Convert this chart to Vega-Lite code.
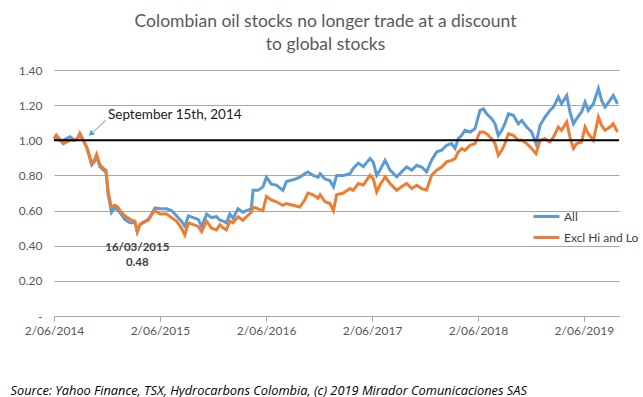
{
  "$schema": "https://vega.github.io/schema/vega-lite/v6.json",
  "width": 565,
  "height": 246,
  "autosize": {"type": "none"},
  "padding": {"left": 54, "top": 70, "right": 24, "bottom": 81},
  "background": "white",
  "title": {
    "text": ["Colombian oil stocks no longer trade at a discount", "to global stocks"],
    "anchor": "middle",
    "frame": "group",
    "dx": -11,
    "offset": 11,
    "fontSize": 17.5,
    "font": "Lato",
    "fontWeight": "normal",
    "color": "#595959",
    "lineHeight": 23
  },
  "config": {
    "view": {"stroke": null},
    "font": "Lato"
  },
  "encoding": {
    "x": {
      "field": "date", "type": "temporal",
      "scale": {"type": "utc", "domain": [{"year": 2014, "month": 6, "date": 2, "utc": true}, {"year": 2019, "month": 10, "date": 1, "utc": true}]},
      "axis": {
        "values": [
          {"year": 2014, "month": 6, "date": 2, "utc": true},
          {"year": 2015, "month": 6, "date": 2, "utc": true},
          {"year": 2016, "month": 6, "date": 2, "utc": true},
          {"year": 2017, "month": 6, "date": 2, "utc": true},
          {"year": 2018, "month": 6, "date": 2, "utc": true},
          {"year": 2019, "month": 6, "date": 2, "utc": true}
        ],
        "format": "%-d/%m/%Y",
        "grid": false,
        "domainColor": "#a6a6a6",
        "tickColor": "#a6a6a6",
        "tickSize": 5,
        "labelFontSize": 12,
        "labelColor": "#595959",
        "labelPadding": 4,
        "labelFlush": false,
        "labelOverlap": false,
        "labelBound": false,
        "title": "Source:  Yahoo Finance, TSX, Hydrocarbons  Colombia, (c) 2019 Mirador Comunicaciones SAS",
        "titleX": -44,
        "titleY": 74,
        "titleAlign": "left",
        "titleBaseline": "middle",
        "titleFont": "Open Sans",
        "titleFontStyle": "italic",
        "titleFontWeight": "normal",
        "titleFontSize": 12.8,
        "titleColor": "#000000"
      }
    },
    "y": {
      "field": "value", "type": "quantitative",
      "scale": {"domain": [0, 1.4], "nice": false, "zero": true},
      "axis": {
        "values": [0, 0.2, 0.4, 0.6, 0.8, 1.0, 1.2, 1.4],
        "labelExpr": "datum.value == 0 ? '-' : format(datum.value, '.2f')",
        "grid": true,
        "gridColor": "#a6a6a6",
        "gridWidth": 1,
        "domain": false,
        "ticks": false,
        "labelPadding": 12,
        "labelFontSize": 12,
        "labelColor": "#595959",
        "labelOverlap": false,
        "title": null
      }
    }
  },
  "layer": [
    {
      "data": {"values": [
        {"date":"2014-06-02","All":1.00,"Excl Hi and Lo":1.01},
        {"date":"2014-06-10","All":1.01,"Excl Hi and Lo":1.03},
        {"date":"2014-06-20","All":1.00,"Excl Hi and Lo":1.01},
        {"date":"2014-07-04","All":1.00,"Excl Hi and Lo":0.98},
        {"date":"2014-07-15","All":1.01,"Excl Hi and Lo":0.99},
        {"date":"2014-07-27","All":1.02,"Excl Hi and Lo":1.00},
        {"date":"2014-08-13","All":1.00,"Excl Hi and Lo":1.00},
        {"date":"2014-08-22","All":1.01,"Excl Hi and Lo":1.01},
        {"date":"2014-08-30","All":1.03,"Excl Hi and Lo":1.04},
        {"date":"2014-09-11","All":1.00,"Excl Hi and Lo":1.00},
        {"date":"2014-09-23","All":0.96,"Excl Hi and Lo":0.96},
        {"date":"2014-10-03","All":0.90,"Excl Hi and Lo":0.91},
        {"date":"2014-10-10","All":0.86,"Excl Hi and Lo":0.87},
        {"date":"2014-10-20","All":0.88,"Excl Hi and Lo":0.89},
        {"date":"2014-10-27","All":0.91,"Excl Hi and Lo":0.92},
        {"date":"2014-11-07","All":0.85,"Excl Hi and Lo":0.86},
        {"date":"2014-11-19","All":0.83,"Excl Hi and Lo":0.84},
        {"date":"2014-11-28","All":0.82,"Excl Hi and Lo":0.83},
        {"date":"2014-12-06","All":0.69,"Excl Hi and Lo":0.70},
        {"date":"2014-12-17","All":0.59,"Excl Hi and Lo":0.62},
        {"date":"2014-12-29","All":0.62,"Excl Hi and Lo":0.63},
        {"date":"2015-01-08","All":0.60,"Excl Hi and Lo":0.62},
        {"date":"2015-01-15","All":0.59,"Excl Hi and Lo":0.60},
        {"date":"2015-02-01","All":0.55,"Excl Hi and Lo":0.57},
        {"date":"2015-02-19","All":0.53,"Excl Hi and Lo":0.55},
        {"date":"2015-03-08","All":0.53,"Excl Hi and Lo":0.54},
        {"date":"2015-03-16","All":0.48,"Excl Hi and Lo":0.48},
        {"date":"2015-03-25","All":0.52,"Excl Hi and Lo":0.52},
        {"date":"2015-04-05","All":0.53,"Excl Hi and Lo":0.535},
        {"date":"2015-04-23","All":0.55,"Excl Hi and Lo":0.545},
        {"date":"2015-05-04","All":0.58,"Excl Hi and Lo":0.575},
        {"date":"2015-05-16","All":0.615,"Excl Hi and Lo":0.60},
        {"date":"2015-06-02","All":0.61,"Excl Hi and Lo":0.58},
        {"date":"2015-06-25","All":0.61,"Excl Hi and Lo":0.58},
        {"date":"2015-07-12","All":0.60,"Excl Hi and Lo":0.56},
        {"date":"2015-07-29","All":0.57,"Excl Hi and Lo":0.54},
        {"date":"2015-08-15","All":0.54,"Excl Hi and Lo":0.50},
        {"date":"2015-08-27","All":0.51,"Excl Hi and Lo":0.46},
        {"date":"2015-09-08","All":0.57,"Excl Hi and Lo":0.53},
        {"date":"2015-09-25","All":0.56,"Excl Hi and Lo":0.52},
        {"date":"2015-10-12","All":0.55,"Excl Hi and Lo":0.51},
        {"date":"2015-10-24","All":0.51,"Excl Hi and Lo":0.48},
        {"date":"2015-11-10","All":0.58,"Excl Hi and Lo":0.54},
        {"date":"2015-11-27","All":0.56,"Excl Hi and Lo":0.50},
        {"date":"2015-12-14","All":0.565,"Excl Hi and Lo":0.49},
        {"date":"2015-12-26","All":0.545,"Excl Hi and Lo":0.52},
        {"date":"2016-01-06","All":0.54,"Excl Hi and Lo":0.50},
        {"date":"2016-01-17","All":0.53,"Excl Hi and Lo":0.49},
        {"date":"2016-01-29","All":0.58,"Excl Hi and Lo":0.54},
        {"date":"2016-02-09","All":0.555,"Excl Hi and Lo":0.53},
        {"date":"2016-02-26","All":0.61,"Excl Hi and Lo":0.565},
        {"date":"2016-03-14","All":0.59,"Excl Hi and Lo":0.545},
        {"date":"2016-03-26","All":0.60,"Excl Hi and Lo":0.565},
        {"date":"2016-04-12","All":0.61,"Excl Hi and Lo":0.59},
        {"date":"2016-04-18","All":0.715,"Excl Hi and Lo":0.62},
        {"date":"2016-05-05","All":0.715,"Excl Hi and Lo":0.61},
        {"date":"2016-05-22","All":0.735,"Excl Hi and Lo":0.60},
        {"date":"2016-06-03","All":0.79,"Excl Hi and Lo":0.68},
        {"date":"2016-06-20","All":0.75,"Excl Hi and Lo":0.66},
        {"date":"2016-07-07","All":0.745,"Excl Hi and Lo":0.65},
        {"date":"2016-07-30","All":0.715,"Excl Hi and Lo":0.63},
        {"date":"2016-08-11","All":0.765,"Excl Hi and Lo":0.64},
        {"date":"2016-09-03","All":0.775,"Excl Hi and Lo":0.63},
        {"date":"2016-09-26","All":0.79,"Excl Hi and Lo":0.62},
        {"date":"2016-10-13","All":0.81,"Excl Hi and Lo":0.66},
        {"date":"2016-10-24","All":0.82,"Excl Hi and Lo":0.70},
        {"date":"2016-11-11","All":0.80,"Excl Hi and Lo":0.69},
        {"date":"2016-11-28","All":0.79,"Excl Hi and Lo":0.67},
        {"date":"2016-12-05","All":0.81,"Excl Hi and Lo":0.69},
        {"date":"2016-12-22","All":0.78,"Excl Hi and Lo":0.65},
        {"date":"2017-01-08","All":0.77,"Excl Hi and Lo":0.64},
        {"date":"2017-01-20","All":0.735,"Excl Hi and Lo":0.60},
        {"date":"2017-01-31","All":0.80,"Excl Hi and Lo":0.69},
        {"date":"2017-02-23","All":0.80,"Excl Hi and Lo":0.70},
        {"date":"2017-03-18","All":0.81,"Excl Hi and Lo":0.725},
        {"date":"2017-03-29","All":0.84,"Excl Hi and Lo":0.715},
        {"date":"2017-04-16","All":0.87,"Excl Hi and Lo":0.754},
        {"date":"2017-05-03","All":0.85,"Excl Hi and Lo":0.745},
        {"date":"2017-05-26","All":0.896,"Excl Hi and Lo":0.80},
        {"date":"2017-06-06","All":0.877,"Excl Hi and Lo":0.782},
        {"date":"2017-06-18","All":0.80,"Excl Hi and Lo":0.706},
        {"date":"2017-06-29","All":0.83,"Excl Hi and Lo":0.744},
        {"date":"2017-07-17","All":0.886,"Excl Hi and Lo":0.792},
        {"date":"2017-08-03","All":0.83,"Excl Hi and Lo":0.754},
        {"date":"2017-08-26","All":0.792,"Excl Hi and Lo":0.716},
        {"date":"2017-09-12","All":0.82,"Excl Hi and Lo":0.735},
        {"date":"2017-09-29","All":0.848,"Excl Hi and Lo":0.754},
        {"date":"2017-10-17","All":0.83,"Excl Hi and Lo":0.725},
        {"date":"2017-11-03","All":0.858,"Excl Hi and Lo":0.744},
        {"date":"2017-11-20","All":0.848,"Excl Hi and Lo":0.725},
        {"date":"2017-12-07","All":0.82,"Excl Hi and Lo":0.716},
        {"date":"2017-12-24","All":0.886,"Excl Hi and Lo":0.80},
        {"date":"2018-01-11","All":0.934,"Excl Hi and Lo":0.83},
        {"date":"2018-01-28","All":0.943,"Excl Hi and Lo":0.848},
        {"date":"2018-02-14","All":0.972,"Excl Hi and Lo":0.877},
        {"date":"2018-03-03","All":0.981,"Excl Hi and Lo":0.886},
        {"date":"2018-03-15","All":0.953,"Excl Hi and Lo":0.896},
        {"date":"2018-03-26","All":1.01,"Excl Hi and Lo":0.934},
        {"date":"2018-04-07","All":1.028,"Excl Hi and Lo":0.953},
        {"date":"2018-04-18","All":1.057,"Excl Hi and Lo":0.943},
        {"date":"2018-05-06","All":1.047,"Excl Hi and Lo":0.972},
        {"date":"2018-05-23","All":1.066,"Excl Hi and Lo":0.981},
        {"date":"2018-06-09","All":1.17,"Excl Hi and Lo":1.047},
        {"date":"2018-06-21","All":1.179,"Excl Hi and Lo":1.047},
        {"date":"2018-07-02","All":1.151,"Excl Hi and Lo":1.037},
        {"date":"2018-07-19","All":1.123,"Excl Hi and Lo":1.009},
        {"date":"2018-07-31","All":1.094,"Excl Hi and Lo":0.981},
        {"date":"2018-08-11","All":1.028,"Excl Hi and Lo":0.915},
        {"date":"2018-08-23","All":1.057,"Excl Hi and Lo":0.943},
        {"date":"2018-09-03","All":1.094,"Excl Hi and Lo":0.981},
        {"date":"2018-09-15","All":1.151,"Excl Hi and Lo":1.037},
        {"date":"2018-10-02","All":1.142,"Excl Hi and Lo":1.028},
        {"date":"2018-10-19","All":1.094,"Excl Hi and Lo":1.0},
        {"date":"2018-10-31","All":1.113,"Excl Hi and Lo":1.0},
        {"date":"2018-11-17","All":1.075,"Excl Hi and Lo":0.981},
        {"date":"2018-12-04","All":1.047,"Excl Hi and Lo":0.953},
        {"date":"2018-12-19","All":0.981,"Excl Hi and Lo":0.924},
        {"date":"2019-01-02","All":1.085,"Excl Hi and Lo":1.0},
        {"date":"2019-01-19","All":1.132,"Excl Hi and Lo":1.009},
        {"date":"2019-02-05","All":1.17,"Excl Hi and Lo":0.99},
        {"date":"2019-02-17","All":1.189,"Excl Hi and Lo":1.018},
        {"date":"2019-03-06","All":1.246,"Excl Hi and Lo":1.075},
        {"date":"2019-03-17","All":1.208,"Excl Hi and Lo":1.057},
        {"date":"2019-04-04","All":1.255,"Excl Hi and Lo":1.104},
        {"date":"2019-04-15","All":1.161,"Excl Hi and Lo":1.018},
        {"date":"2019-04-27","All":1.094,"Excl Hi and Lo":0.953},
        {"date":"2019-05-08","All":1.123,"Excl Hi and Lo":0.981},
        {"date":"2019-05-25","All":1.161,"Excl Hi and Lo":0.99},
        {"date":"2019-06-06","All":1.217,"Excl Hi and Lo":1.075},
        {"date":"2019-06-17","All":1.17,"Excl Hi and Lo":1.037},
        {"date":"2019-07-05","All":1.208,"Excl Hi and Lo":1.0},
        {"date":"2019-07-22","All":1.295,"Excl Hi and Lo":1.132},
        {"date":"2019-08-02","All":1.227,"Excl Hi and Lo":1.085},
        {"date":"2019-08-14","All":1.189,"Excl Hi and Lo":1.057},
        {"date":"2019-08-31","All":1.227,"Excl Hi and Lo":1.075},
        {"date":"2019-09-11","All":1.255,"Excl Hi and Lo":1.094},
        {"date":"2019-09-26","All":1.208,"Excl Hi and Lo":1.047}
      ]},
      "transform": [{"fold": ["All", "Excl Hi and Lo"], "as": ["series", "value"]}],
      "mark": {"type": "line", "strokeWidth": 3, "interpolate": "linear"},
      "encoding": {
        "color": {
          "field": "series", "type": "nominal",
          "scale": {"domain": ["All", "Excl Hi and Lo"], "range": ["#5B9BD5", "#ED7D31"]},
          "legend": {
            "orient": "none", "legendX": 478, "legendY": 132, "title": null,
            "symbolType": "stroke", "symbolSize": 676, "symbolStrokeWidth": 3,
            "labelFontSize": 12, "labelColor": "#404040", "rowPadding": -4,
            "labelOffset": 3, "padding": 0
          }
        }
      }
    },
    {
      "data": {"values": [
        {"date": "2014-06-02", "value": 1},
        {"date": "2019-10-01", "value": 1}
      ]},
      "mark": {"type": "line", "color": "#000000", "strokeWidth": 2}
    },
    {
      "data": {"values": [{"date": "2014-11-28", "value": 1.114, "date2": "2014-10-12", "value2": 1.042}]},
      "mark": {"type": "rule", "color": "#5B9BD5", "strokeWidth": 1},
      "encoding": {
        "x2": {"field": "date2"},
        "y2": {"field": "value2"}
      }
    },
    {
      "data": {"values": [{"date": "2014-10-07", "value": 1.036}]},
      "mark": {"type": "point", "shape": "triangle-up", "angle": 227, "filled": true, "size": 40, "color": "#5B9BD5", "opacity": 1}
    },
    {
      "data": {"values": [{"date": "2014-12-05", "value": 1.142, "label": "September 15th, 2014"}]},
      "mark": {"type": "text", "align": "left", "baseline": "middle", "fontSize": 13.5, "color": "#1a1a1a", "font": "Lato"},
      "encoding": {"text": {"field": "label"}}
    },
    {
      "data": {"values": [
        {"date": "2015-03-16", "value": 0.386, "label": "16/03/2015"},
        {"date": "2015-03-16", "value": 0.301, "label": "0.48"}
      ]},
      "mark": {"type": "text", "align": "center", "baseline": "middle", "fontSize": 11.5, "fontWeight": "bold", "color": "#404040", "font": "Lato"},
      "encoding": {"text": {"field": "label"}}
    }
  ]
}
